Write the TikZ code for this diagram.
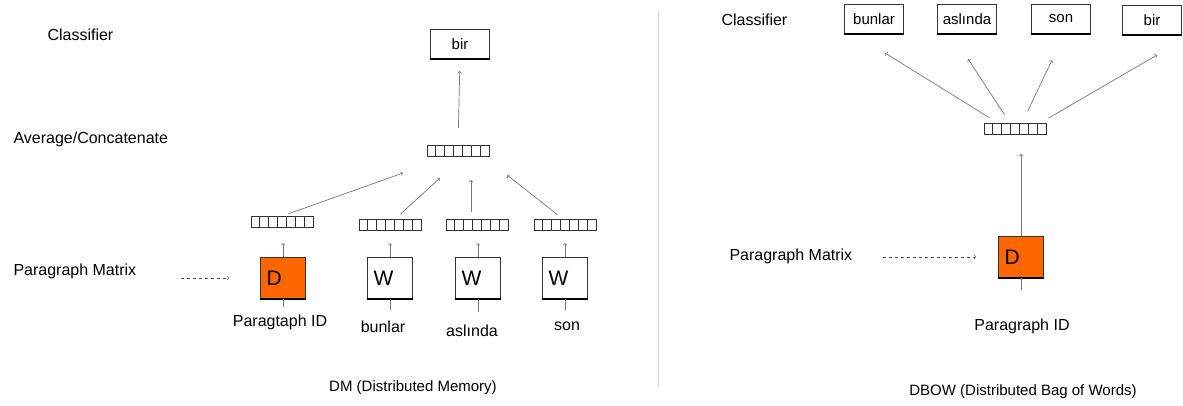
\documentclass[tikz,border=0pt]{standalone}
\usepackage{fontspec}
\setmainfont{Liberation Sans}
\usetikzlibrary{positioning}
\definecolor{dorange}{RGB}{255,102,0}
\definecolor{arrgray}{RGB}{120,120,120}
\tikzset{
  vec/.style={draw=black!80,line width=0.9pt,minimum width=62pt,minimum height=11pt,inner sep=0pt,
    path picture={\foreach \k in {1,...,6}
      \draw[black!80,line width=0.9pt] ([xshift=\k*62pt/7]path picture bounding box.south west)
        -- ([xshift=\k*62pt/7]path picture bounding box.north west);}},
  thickbase/.style={append after command={(\tikzlastnode.south west) edge[draw=black,line width=2.2pt] (\tikzlastnode.south east)}},
  wordbox/.style={draw=black!80,line width=0.9pt,minimum width=59pt,minimum height=29pt,inner sep=0pt,font=\fontsize{15}{18}\selectfont,thickbase},
  inbox/.style={draw=black!80,line width=0.9pt,minimum width=45pt,minimum height=41pt,inner xsep=6pt,inner ysep=0pt,
    text width=33pt,align=left,font=\fontsize{21}{24}\selectfont,thickbase},
  wbox/.style={inbox,fill=white},
  dbox/.style={inbox,fill=dorange},
  side/.style={anchor=west,font=\fontsize{16}{19}\selectfont},
  word/.style={font=\fontsize{16}{19}\selectfont},
  caption/.style={font=\fontsize{15}{18}\selectfont},
  arr/.style={->,draw=arrgray,line width=0.7pt},
  feed/.style={draw=arrgray,line width=0.8pt},
  dasharr/.style={->,draw=black!70,dashed,line width=0.6pt},
}
\begin{document}
\begin{tikzpicture}[x=1pt,y=-1pt]
  \useasboundingbox (0,0) rectangle (1183,405);

  % DM side
  \node[side] (clsL) at (44,35) {Classifier};
  \node[side] (avgL) at (10,139) {Average/Concatenate};
  \node[side] (pmL) at (10,271) {Paragraph Matrix};

  \node[wordbox] (outL) at (460,44) {bir};
  \node[vec] (avg) at (458,151) {};

  \node[dbox] (dL) at (283,278) {D};
  \node[wbox] (w1) at (390,278) {W};
  \node[wbox] (w2) at (478,278) {W};
  \node[wbox] (w3) at (565,278) {W};

  \node[vec] (vd) at (282,222) {};
  \node[vec] (v1) at (390,225) {};
  \node[vec] (v2) at (477,225) {};
  \node[vec] (v3) at (565,225) {};

  \node[word] (idL) at (280,322) {Paragtaph ID};
  \node[word] (t1) at (383,327) {bunlar};
  \node[word] (t2) at (472,331) {aslında};
  \node[word] (t3) at (567,326) {son};

  \coordinate (i0) at (283,307);
  \coordinate (i1) at (390,310);
  \coordinate (i2) at (478,312);
  \coordinate (i3) at (565,310);
  \foreach \b/\c in {dL/i0,w1/i1,w2/i2,w3/i3}
    \draw[feed] (\b.south) -- (\c);

  \foreach \b/\v in {dL/vd,w1/v1,w2/v2,w3/v3}
    \draw[arr] (\b.north) -- ++(0,-14);

  \coordinate (e0) at (403,173);
  \coordinate (e1) at (440,178);
  \coordinate (e2) at (471,180);
  \coordinate (e3) at (507,175);
  \draw[arr,shorten <=7pt] (vd.north) -- (e0);
  \draw[arr,shorten <=7pt] ([xshift=5pt]v1.north) -- (e1);
  \draw[arr,shorten <=7pt] ([xshift=-6pt]v2.north) -- (e2);
  \draw[arr,shorten <=7pt] ([xshift=-2pt]v3.north) -- (e3);
  \draw[arr,shorten <=17pt,shorten >=12pt] (avg.north) -- (outL.south);

  \draw[dasharr] ([xshift=41pt]pmL.east |- dL.west) -- ([xshift=-31pt]dL.west);

  \node[caption] (capL) at (413,388) {DM (Distributed Memory)};

  % divider
  \coordinate (divtop) at (658,10);
  \coordinate (divbot) at (658,387);
  \draw[black!15,line width=1pt] (divtop) -- (divbot);

  % DBOW side
  \node[side] (clsR) at (718,20) {Classifier};
  \node[side] (pmR) at (726,256) {Paragraph Matrix};

  \node[wordbox] (o1) at (874,19) {bunlar};
  \node[wordbox] (o2) at (967,19) {aslında};
  \node[wordbox] (o3) at (1061,19) {son};
  \node[wordbox] (o4) at (1152,20) {bir};

  \node[vec] (rvec) at (1015,129) {};
  \node[dbox] (dR) at (1021,257) {D};
  \coordinate (iR) at (1021,290);
  \draw[feed] (dR.south) -- (iR);
  \draw[arr,shorten >=19pt] (dR.north) -- (dR.north |- rvec.south);

  \coordinate (f1) at (885,53);
  \coordinate (f2) at (968,59);
  \coordinate (f3) at (1052,60);
  \coordinate (f4) at (1157,55);
  \draw[arr,shorten <=10pt] ([xshift=-17pt]rvec.north) -- (f1);
  \draw[arr,shorten <=10pt] ([xshift=-5pt]rvec.north) -- (f2);
  \draw[arr,shorten <=13pt] ([xshift=7pt]rvec.north) -- (f3);
  \draw[arr,shorten <=10pt] ([xshift=25pt]rvec.north) -- (f4);

  \draw[dasharr] ([xshift=27pt]pmR.east |- dR.west) -- ([xshift=-22pt]dR.west);

  \node[word] (idR) at (1022,326) {Paragraph ID};
  \node[caption] (capR) at (1023,392) {DBOW (Distributed Bag of Words)};
\end{tikzpicture}
\end{document}
